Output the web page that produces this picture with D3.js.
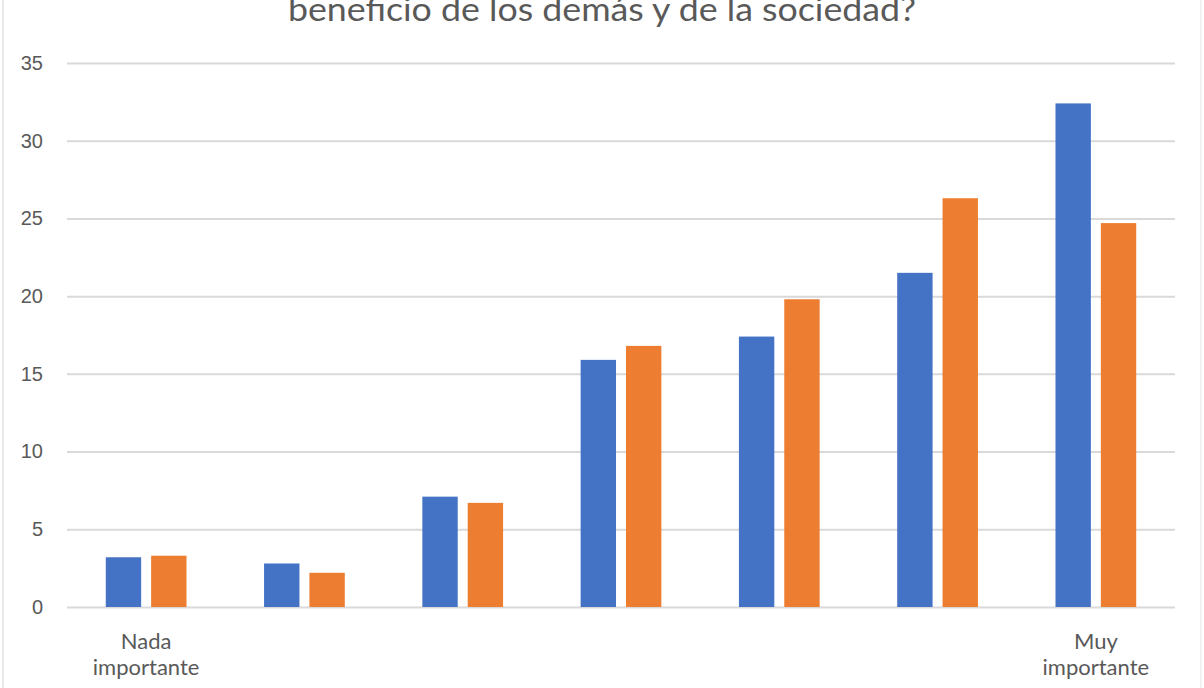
<!DOCTYPE html>
<html>
<head>
<meta charset="utf-8">
<script src="https://cdn.jsdelivr.net/npm/d3@7.9.0/dist/d3.min.js"></script>
<style>
  body { margin: 0; background: #fff; }
  svg { display: block; font-family: Lato, "Open Sans", sans-serif; }
</style>
</head>
<body>
<svg width="1204" height="688"></svg>
<script>
// data
const categories = ['1', '2', '3', '4', '5', '6', '7'];
const seriesNames = ['Serie 1', 'Serie 2'];
const blueValues = [3.2, 2.8, 7.1, 15.9, 17.4, 21.5, 32.4];
const orangeValues = [3.3, 2.2, 6.7, 16.8, 19.8, 26.3, 24.7];
const yTicks = [0, 5, 10, 15, 20, 25, 30, 35];
const colors = ['#4472C4', '#ED7D31'];

const svg = d3.select('svg');
const margin = { left: 67, right: 29, top: 63, bottom: 81 };
const width = 1204, height = 688;

const x = d3.scaleBand()
  .domain(categories)
  .range([margin.left, width - margin.right])
  .paddingInner(0.49)
  .paddingOuter(0.245);

const xInner = d3.scaleBand()
  .domain(seriesNames)
  .range([0, x.bandwidth()])
  .paddingInner(0.22);

const y = d3.scaleLinear()
  .domain([0, 35])
  .range([height - margin.bottom, margin.top]);

// frame edges
svg.append('line').attr('x1', 3).attr('x2', 3).attr('y1', 0).attr('y2', height)
  .attr('stroke', '#e3e3e3').attr('stroke-width', 1.5);
svg.append('line').attr('x1', 1201).attr('x2', 1201).attr('y1', 0).attr('y2', height)
  .attr('stroke', '#ececec').attr('stroke-width', 1.5);

// title (its first line lies above the picture)
svg.append('text')
  .attr('x', 602).attr('y', 21)
  .attr('text-anchor', 'middle')
  .attr('font-size', 33)
  .attr('textLength', 628)
  .attr('lengthAdjust', 'spacingAndGlyphs')
  .attr('fill', '#595959')
  .text('beneficio de los demás y de la sociedad?');

// gridlines + y labels
const yAxis = d3.axisLeft(y)
  .tickValues(yTicks)
  .tickSize(-(width - margin.left - margin.right))
  .tickPadding(24);

const gy = svg.append('g')
  .attr('transform', `translate(${margin.left},0)`)
  .call(yAxis);
gy.select('.domain').remove();
gy.selectAll('.tick line').attr('stroke', '#d9d9d9').attr('stroke-width', 2);
gy.selectAll('.tick text').attr('fill', '#595959').attr('font-size', 20);

// bars
const series = [blueValues, orangeValues];
series.forEach((vals, si) => {
  svg.append('g')
    .selectAll('rect')
    .data(vals)
    .join('rect')
    .attr('x', (d, i) => x(categories[i]) + xInner(seriesNames[si]))
    .attr('y', d => y(d))
    .attr('width', xInner.bandwidth())
    .attr('height', d => y(0) - y(d))
    .attr('fill', colors[si]);
});

// end labels of the scale
const endLabels = [
  { cat: categories[0], lines: ['Nada', 'importante'] },
  { cat: categories[categories.length - 1], lines: ['Muy', 'importante'] }
];
endLabels.forEach(l => {
  const t = svg.append('text')
    .attr('text-anchor', 'middle')
    .attr('font-size', 22)
    .attr('fill', '#595959');
  l.lines.forEach((s, k) => {
    t.append('tspan')
      .attr('x', x(l.cat) + x.bandwidth() / 2)
      .attr('y', 649 + k * 26)
      .text(s);
  });
});
</script>
</body>
</html>
